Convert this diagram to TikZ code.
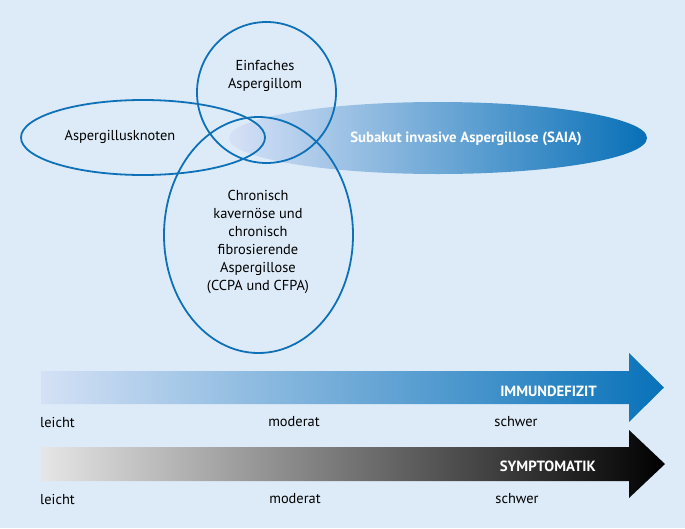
\documentclass[tikz,border=0pt]{standalone}
\usepackage{fontspec}
\setmainfont{PT Sans}
\usetikzlibrary{shapes.geometric}
\definecolor{bg_blue}{RGB}{221,235,248}
\definecolor{line_blue}{RGB}{14,113,184}
\definecolor{saia_left}{RGB}{214,225,246}
\definecolor{saia_right}{RGB}{8,112,183}
\definecolor{immun_left}{RGB}{212,225,245}
\definecolor{immun_right}{RGB}{8,114,185}
\definecolor{sym_left}{RGB}{230,230,230}

\begin{document}
\begin{tikzpicture}[
		x=1pt, y=-1pt,
		every node/.style={font=\fontsize{14.4}{18}\selectfont, align=center, inner sep=0pt},
		venn/.style={ellipse, draw=line_blue, line width=1.8pt},
		bar_label/.style={font=\fontsize{14.8}{18}\selectfont\bfseries, text=white, anchor=east},
		scale_label/.style={anchor=west}
	]
  \fill[bg_blue] (0,0) rectangle (685,528);
  \node (saia) [ellipse, left color=saia_left, right color=saia_right, minimum width=418, minimum height=72] at (438,138) {};
  \node (knoten) [venn, minimum width=244, minimum height=75] at (143,137.5) {};
  \node (aspergillom) [venn, minimum width=139, minimum height=141] at (266.5,92.5) {};
  \node (ccpa) [venn, minimum width=189, minimum height=236] at (258.5,235) {};
  \node (saia_label) [text=white, font=\fontsize{14.8}{18}\selectfont\bfseries] at (466,139) {Subakut invasive Aspergillose (SAIA)};
  \node (knoten_label) at (120,137) {Aspergillusknoten};
  \node (aspergillom_label) at (265,76) {Einfaches\\Aspergillom};
  \node (ccpa_label) at (258,242) {Chronisch\\kavernöse und\\chronisch\\fibrosierende\\Aspergillose\\(CCPA und CFPA)};
  \shade[left color=immun_left, right color=immun_right]
    (41,371) -- (629,371) -- (629,353) -- (664,387.5) -- (629,422) -- (629,404) -- (41,404) -- cycle;
  \shade[left color=sym_left, right color=black]
    (41,447) -- (629,447) -- (629,430) -- (665,464) -- (629,498) -- (629,481) -- (41,481) -- cycle;
  \node (immun) [bar_label] at (597,391) {IMMUNDEFIZIT};
  \node (sym) [bar_label] at (596,466) {SYMPTOMATIK};
  \node (immun_low) [scale_label] at (40,422) {leicht};
  \node (immun_mid) at (294,422) {moderat};
  \node (immun_high) at (516,422) {schwer};
  \node (sym_low) [scale_label] at (40,499) {leicht};
  \node (sym_mid) at (295,499) {moderat};
  \node (sym_high) at (517,499) {schwer};
\end{tikzpicture}
\end{document}
